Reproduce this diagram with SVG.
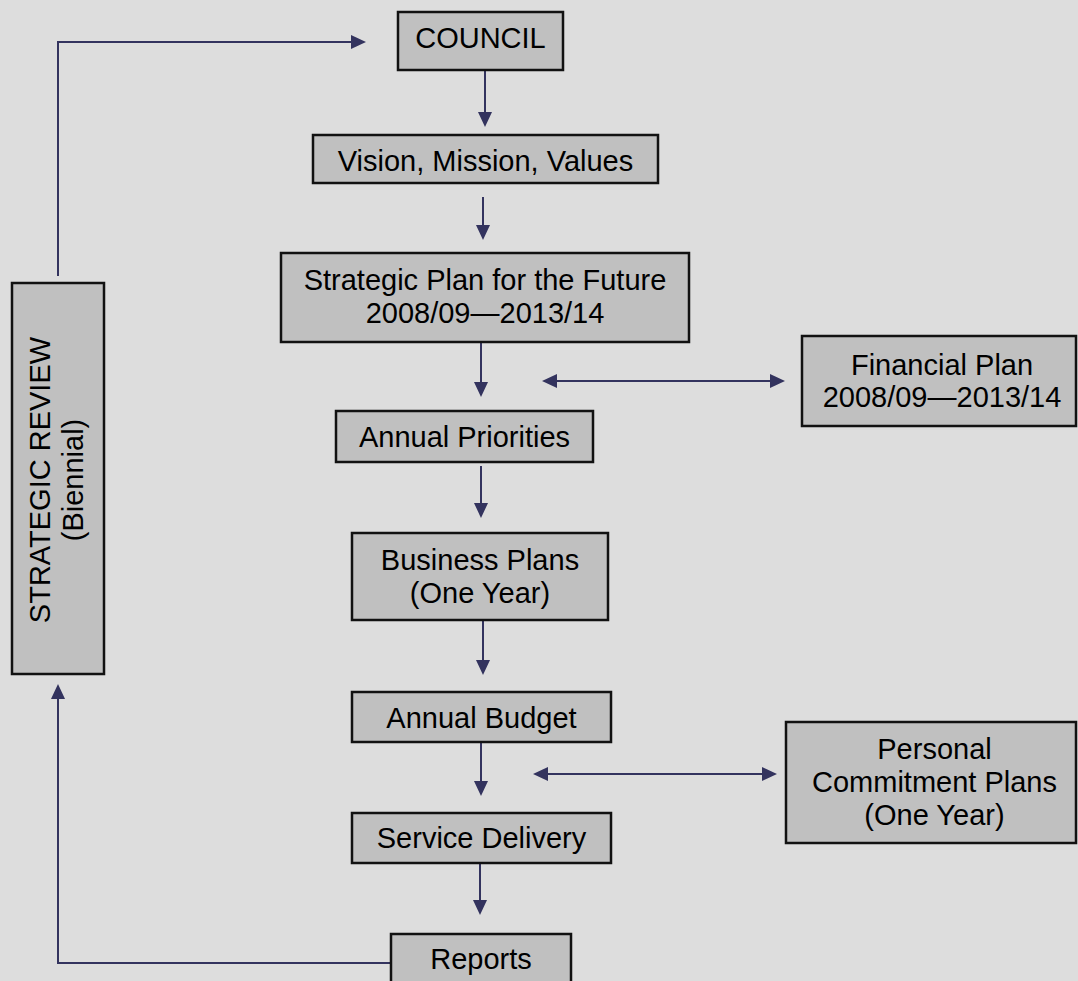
<svg xmlns="http://www.w3.org/2000/svg" width="1078" height="981" viewBox="0 0 1078 981">
<defs>
<style>
.box{fill:#c0c0c0;stroke:#111;stroke-width:2.5}
.t{font-family:"Liberation Sans",Arial,sans-serif;font-size:29px;fill:#000;text-anchor:middle}
.c{fill:none;stroke:#33335e;stroke-width:2}
</style>
<marker id="ah" viewBox="0 0 15 14" refX="11" refY="7" markerWidth="15" markerHeight="14" markerUnits="userSpaceOnUse" orient="auto-start-reverse">
<path d="M0,0 L15,7 L0,14 z" fill="#33335e"/>
</marker>
</defs>
<rect width="1078" height="981" fill="#dddddd"/>
<g id="connectors">
<path class="c" d="M58,276 V42 H362" marker-end="url(#ah)"/>
<path class="c" d="M485,71 V123" marker-end="url(#ah)"/>
<path class="c" d="M483,197 V236" marker-end="url(#ah)"/>
<path class="c" d="M481,343 V393" marker-end="url(#ah)"/>
<path class="c" d="M481,466 V514" marker-end="url(#ah)"/>
<path class="c" d="M483,621 V671" marker-end="url(#ah)"/>
<path class="c" d="M481,743 V792" marker-end="url(#ah)"/>
<path class="c" d="M480,864 V911" marker-end="url(#ah)"/>
<path class="c" d="M391,963 H58 V688" marker-end="url(#ah)"/>
<path class="c" d="M546,381 H781" marker-start="url(#ah)" marker-end="url(#ah)"/>
<path class="c" d="M537,774 H773" marker-start="url(#ah)" marker-end="url(#ah)"/>
</g>
<g id="council"><rect class="box" x="398" y="12" width="165" height="58"/><text class="t" x="480.5" y="48">COUNCIL</text></g>
<g id="vision"><rect class="box" x="313" y="135" width="345" height="48"/><text class="t" x="485.5" y="171">Vision, Mission, Values</text></g>
<g id="strategic-plan"><rect class="box" x="281" y="253" width="408" height="89"/><text class="t" x="485" y="290">Strategic Plan for the Future</text><text class="t" x="485" y="323">2008/09—2013/14</text></g>
<g id="annual-priorities"><rect class="box" x="336" y="411" width="257" height="51"/><text class="t" x="464.5" y="447">Annual Priorities</text></g>
<g id="business-plans"><rect class="box" x="352" y="533" width="256" height="87"/><text class="t" x="480" y="570">Business Plans</text><text class="t" x="480" y="603">(One Year)</text></g>
<g id="annual-budget"><rect class="box" x="352" y="692" width="259" height="50"/><text class="t" x="481.5" y="728">Annual Budget</text></g>
<g id="service-delivery"><rect class="box" x="352" y="813" width="259" height="50"/><text class="t" x="481.5" y="848">Service Delivery</text></g>
<g id="reports"><rect class="box" x="391" y="934" width="180" height="60"/><text class="t" x="481" y="969">Reports</text></g>
<g id="financial-plan"><rect class="box" x="802" y="336" width="274" height="90"/><text class="t" x="942" y="375">Financial Plan</text><text class="t" x="942" y="407">2008/09—2013/14</text></g>
<g id="personal-plans"><rect class="box" x="786" y="722" width="290" height="121"/><text class="t" x="934.5" y="759">Personal</text><text class="t" x="934.5" y="792">Commitment Plans</text><text class="t" x="934.5" y="825">(One Year)</text></g>
<g id="strategic-review"><rect class="box" x="12" y="283" width="92" height="391"/>
<text class="t" transform="translate(50,480) rotate(-90)">STRATEGIC REVIEW</text>
<text class="t" transform="translate(83,480) rotate(-90)">(Biennial)</text></g>
</svg>
